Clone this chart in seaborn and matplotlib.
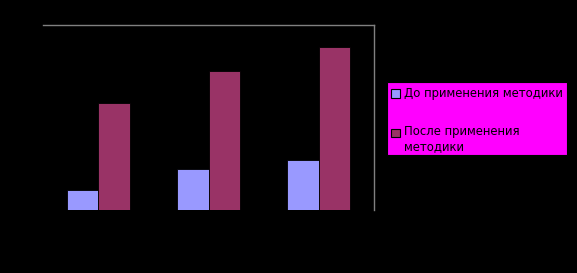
import matplotlib
matplotlib.use("Agg")
import matplotlib.pyplot as plt
import seaborn as sns
import pandas as pd
from matplotlib.patches import Rectangle, Patch
from matplotlib.legend_handler import HandlerPatch

categories = ["1", "2", "3"]
series_names = ["До применения методики", "После применения\nметодики"]
before = [11, 22, 27]
after = [58, 75, 88]
colors = ["#9999FF", "#993366"]

df = pd.DataFrame({
    "cat": categories * 2,
    "series": [series_names[0]] * 3 + [series_names[1]] * 3,
    "value": before + after,
})

sns.set_style("white")
plt.rcParams["font.family"] = ["DejaVu Sans"]

fig = plt.figure(figsize=(5.77, 2.73), dpi=100, facecolor="black")
ax = fig.add_axes([43 / 577, 1 - 210 / 273, (374 - 43) / 577, (210 - 25) / 273])
ax.set_facecolor("black")

sns.barplot(data=df, x="cat", y="value", hue="series", palette=colors,
            width=0.57, dodge=True, ax=ax, edgecolor="black", linewidth=0.6,
            legend=False, saturation=1)

ax.set_ylim(0, 100)
ax.set_xlim(-0.5, 2.5)
ax.set_xlabel("")
ax.set_ylabel("")
ax.set_xticks([])
ax.set_yticks([])
for s in ["left", "bottom"]:
    ax.spines[s].set_visible(False)
for s in ["top", "right"]:
    ax.spines[s].set_color("#808080")
    ax.spines[s].set_linewidth(1)

# legend box
fig.patches.append(Rectangle((387 / 577, 1 - 155 / 273), (567 - 387) / 577, (155 - 82) / 273,
                             transform=fig.transFigure, facecolor="#FF00FF",
                             edgecolor="black", linewidth=0.8, zorder=0))

FS = 8.4
LS = 1.25


def make_handler(shift):
    def patch_func(legend, orig_handle, xdescent, ydescent, width, height, fontsize):
        return Rectangle((-xdescent, -ydescent + shift), width, height)
    return HandlerPatch(patch_func=patch_func)


handles = [Patch(facecolor=c, edgecolor="black", linewidth=0.8) for c in colors]
leg = fig.legend(handles, series_names, loc="upper left",
                 bbox_to_anchor=(389 / 577, 1 - 85 / 273),
                 frameon=False, fontsize=FS, handlelength=0.75, handleheight=0.75,
                 handletextpad=0.35, labelspacing=2.1, borderpad=0.2,
                 borderaxespad=0,
                 handler_map={handles[0]: make_handler(0),
                              handles[1]: make_handler(5.0)})
for t in leg.get_texts():
    t.set_color("black")
    t.set_linespacing(LS)

fig.savefig("out.png", dpi=100, facecolor="black")
